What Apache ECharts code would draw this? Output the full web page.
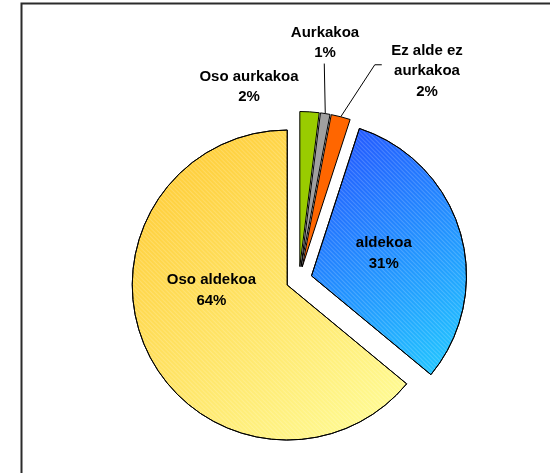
<!DOCTYPE html>
<html>
<head>
<meta charset="utf-8">
<script src="https://cdn.jsdelivr.net/npm/echarts@6/dist/echarts.min.js"></script>
<style>
  html, body { margin: 0; padding: 0; background: #fff; }
  #chart { width: 550px; height: 473px; }
</style>
</head>
<body>
<div id="chart"></div>
<script>
// iritzia (%), erlojuaren norabidean goitik hasita
const categories = ['Oso aurkakoa', 'Aurkakoa', 'Ez alde ez\naurkakoa', 'aldekoa', 'Oso aldekoa']
const values = [2, 1, 2, 31, 64]

const chart = echarts.init(document.getElementById('chart'))

const OFFSET = 13

const stripes = {
  symbol: 'rect',
  symbolSize: 1,
  dashArrayX: [1, 0],
  dashArrayY: [1, 2],
  rotation: Math.PI / 4,
  color: 'rgba(255,255,255,0.18)'
}

const fills = [
  '#99cc00',
  '#a0a0a0',
  '#ff6600',
  new echarts.graphic.LinearGradient(0, 0, 1, 1, [
    { offset: 0, color: '#2450ff' },
    { offset: 1, color: '#22ccff' }
  ]),
  new echarts.graphic.LinearGradient(0, 0, 1, 1, [
    { offset: 0, color: '#ffc72c' },
    { offset: 1, color: '#ffff9c' }
  ])
]

// etiketen erdiguneak (kanpokoak)
const outerLabelAt = { 0: [249, 87], 1: [325, 43], 2: [427, 71] }

// hautatutako zatiaren desplazamendua (erdiko angeluaren norabidean)
const total = values.reduce((a, b) => a + b, 0)
function shiftOf(i) {
  const before = values.slice(0, i).reduce((a, b) => a + b, 0)
  const a = 2 * Math.PI * (before + values[i] / 2) / total
  return [OFFSET * Math.sin(a), -OFFSET * Math.cos(a)]
}

const data = categories.map((name, i) => {
  const itemStyle = { color: fills[i] }
  if (i >= 3) itemStyle.decal = stripes
  return {
    name,
    value: values[i],
    selected: true,
    itemStyle,
    label: { position: i >= 3 ? 'inside' : 'outside' },
    labelLine: { show: i === 1 || i === 2 }
  }
})

chart.setOption({
  animation: false,
  graphic: [{
    type: 'rect',
    shape: { x: 21.5, y: 3.5, width: 700, height: 700 },
    style: { fill: 'none', stroke: '#2b2b2b', lineWidth: 2 }
  }],
  series: [{
    type: 'pie',
    center: [299, 279.5],
    radius: 155,
    startAngle: 90,
    clockwise: true,
    selectedMode: 'multiple',
    selectedOffset: OFFSET,
    avoidLabelOverlap: false,
    itemStyle: { borderColor: '#000', borderWidth: 1 },
    select: { itemStyle: { borderColor: '#000', borderWidth: 1 } },
    emphasis: { disabled: true },
    label: {
      color: '#000',
      fontFamily: 'Liberation Sans, Arial, sans-serif',
      fontWeight: 'bold',
      fontSize: 15,
      lineHeight: 20.5,
      align: 'center',
      formatter: p => p.name + '\n' + p.value + '%'
    },
    labelLine: { lineStyle: { color: '#000', width: 1 } },
    labelLayout: p => {
      const i = p.dataIndex
      const r = p.labelRect
      if (i >= 3) return i === 3 ? { dx: -5, dy: 0 } : { dx: -3, dy: -29 }
      const t = outerLabelAt[i]
      const s = shiftOf(i)
      const out = {
        align: 'center',
        dx: t[0] - r.x - s[0],
        dy: t[1] - (r.y + r.height / 2) - s[1]
      }
      const p0 = p.labelLinePoints[0]
      if (i === 1) out.labelLinePoints = [p0, [p0[0] - 1, p0[1] - 50]]
      if (i === 2) out.labelLinePoints = [p0, [p0[0] + 34, p0[1] - 52], [p0[0] + 41, p0[1] - 52]]
      return out
    },
    data
  }]
})
</script>
</body>
</html>
